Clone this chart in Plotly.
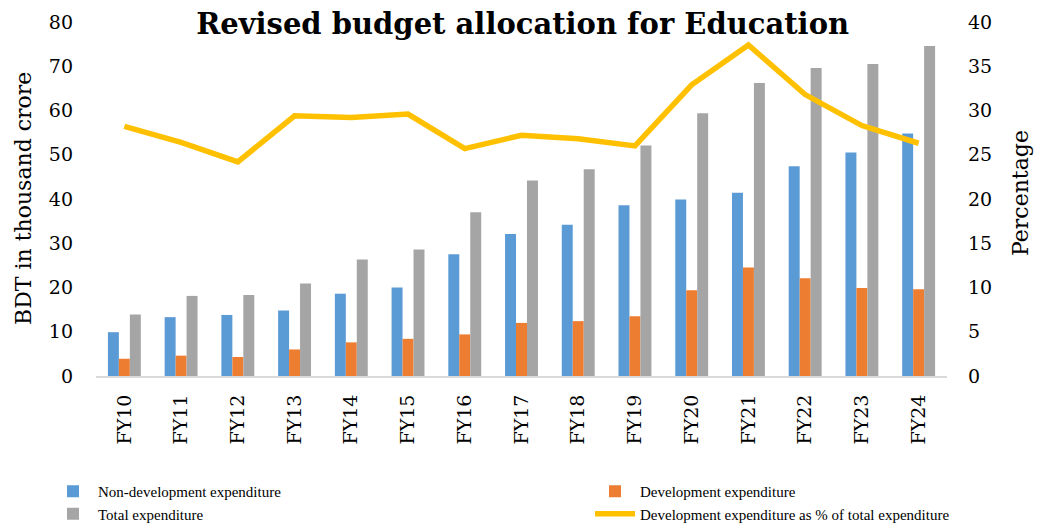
import plotly.graph_objects as go

categories = ["FY10", "FY11", "FY12", "FY13", "FY14", "FY15", "FY16", "FY17",
              "FY18", "FY19", "FY20", "FY21", "FY22", "FY23", "FY24"]
non_dev = [9.9, 13.3, 13.8, 14.8, 18.6, 20.0, 27.5, 32.1, 34.2, 38.6, 39.9, 41.4, 47.4, 50.5, 54.8]
dev = [3.9, 4.6, 4.3, 6.0, 7.6, 8.4, 9.4, 12.0, 12.4, 13.5, 19.4, 24.5, 22.1, 19.9, 19.6]
total = [13.9, 18.1, 18.3, 20.9, 26.3, 28.6, 37.0, 44.2, 46.7, 52.1, 59.4, 66.2, 69.6, 70.5, 74.6]
dev_pct = [28.2, 26.4, 24.2, 29.4, 29.2, 29.6, 25.7, 27.2, 26.8, 26.0, 32.9, 37.4, 31.8, 28.3, 26.3]

serif = "DejaVu Serif, Georgia, serif"
legend_font = "Liberation Serif, Times New Roman, serif"

W, H = 1039, 524
ML, MR, MT, MB = 96, 92, 22, 148

fig = go.Figure()
fig.add_trace(go.Bar(x=categories, y=non_dev, name="Non-development expenditure",
                     marker=dict(color="#5B9BD5", line=dict(width=0)), legend="legend"))
fig.add_trace(go.Bar(x=categories, y=dev, name="Development expenditure",
                     marker=dict(color="#ED7D31", line=dict(width=0)), legend="legend2"))
fig.add_trace(go.Bar(x=categories, y=total, name="Total expenditure",
                     marker=dict(color="#A5A5A5", line=dict(width=0)), legend="legend"))
fig.add_trace(go.Scatter(x=categories, y=dev_pct, name="Development expenditure as % of total expenditure",
                         mode="lines", line=dict(color="#FFC000", width=5.5), yaxis="y2",
                         legend="legend2"))

legend_common = dict(orientation="v", xref="container", yref="container",
                     xanchor="left", yanchor="top", traceorder="normal",
                     font=dict(family=legend_font, size=15, color="black"),
                     itemwidth=40, tracegroupgap=0, bgcolor="rgba(0,0,0,0)")

fig.update_layout(
    width=W, height=H,
    margin=dict(l=ML, r=MR, t=MT, b=MB, autoexpand=False),
    paper_bgcolor="white", plot_bgcolor="white",
    barmode="group", bargap=0.42, bargroupgap=0,
    title=dict(text="<b>Revised budget allocation for Education</b>",
               x=0.503, xanchor="center", y=1 - 24 / H, yanchor="middle", yref="container",
               font=dict(family=serif, size=29, color="black")),
    xaxis=dict(showgrid=False, showline=True, linecolor="#D9D9D9", linewidth=2,
               tickangle=-90, ticks="", ticklabelstandoff=9,
               tickfont=dict(family=serif, size=19, color="black")),
    yaxis=dict(range=[0, 80], dtick=10, showgrid=False, showline=False, zeroline=False,
               ticks="", ticklabelstandoff=22,
               tickfont=dict(family=serif, size=19, color="black")),
    yaxis2=dict(range=[0, 40], dtick=5, overlaying="y", side="right", showgrid=False,
                showline=False, zeroline=False, ticks="", ticklabelstandoff=20,
                tickfont=dict(family=serif, size=19, color="black")),
    legend=dict(x=48 / W, y=1 - 475 / H, **legend_common),
    legend2=dict(x=590 / W, y=1 - 475 / H, **legend_common),
    showlegend=True,
    annotations=[
        dict(text="BDT in thousand crore", textangle=-90,
             x=(23 - ML) / (W - ML - MR), y=(H - MB - 199) / (H - MT - MB),
             xref="paper", yref="paper", xanchor="center", yanchor="middle", showarrow=False,
             font=dict(family=serif, size=22, color="black")),
        dict(text="Percentage", textangle=-90,
             x=(1020 - ML) / (W - ML - MR), y=(H - MB - 193) / (H - MT - MB),
             xref="paper", yref="paper", xanchor="center", yanchor="middle", showarrow=False,
             font=dict(family=serif, size=22, color="black")),
    ],
)

fig.write_html("out.html")
